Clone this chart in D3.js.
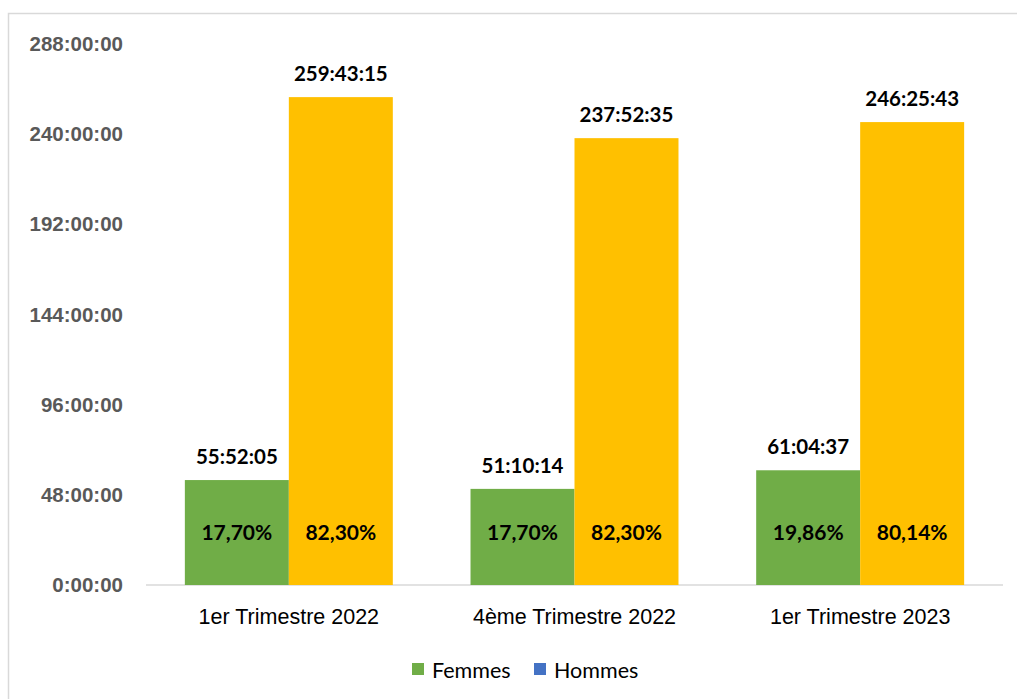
<!DOCTYPE html>
<html>
<head>
<meta charset="utf-8">
<script src="https://cdn.jsdelivr.net/npm/d3@7"></script>
<style>
  body { margin: 0; background: #fff; }
  svg { font-family: Lato, "Open Sans", sans-serif; }
</style>
</head>
<body>
<div id="chart"></div>
<script>
// data
var categories = ["1er Trimestre 2022", "4ème Trimestre 2022", "1er Trimestre 2023"];
var femmesHours = [55 + 52/60 + 5/3600, 51 + 10/60 + 14/3600, 61 + 4/60 + 37/3600];
var hommesHours = [259 + 43/60 + 15/3600, 237 + 52/60 + 35/3600, 246 + 25/60 + 43/3600];
var femmesLabels = ["55:52:05", "51:10:14", "61:04:37"];
var hommesLabels = ["259:43:15", "237:52:35", "246:25:43"];
var femmesPct = ["17,70%", "17,70%", "19,86%"];
var hommesPct = ["82,30%", "82,30%", "80,14%"];
var yTicks = [0, 48, 96, 144, 192, 240, 288];
var tickLabels = ["0:00:00", "48:00:00", "96:00:00", "144:00:00", "192:00:00", "240:00:00", "288:00:00"];
var series = ["Femmes", "Hommes"];
var colors = {Femmes: "#70ad47", Hommes: "#ffc000"};
var legendColors = {Femmes: "#70ad47", Hommes: "#4472c4"};

var svgWidth = 1017, svgHeight = 699;
var margin = {top: 44, right: 14, bottom: 114, left: 146};
var chartWidth = svgWidth - margin.left - margin.right;
var chartHeight = svgHeight - margin.top - margin.bottom;

var svg = d3.select("#chart").append("svg")
    .attr("width", svgWidth)
    .attr("height", svgHeight);

// outer frame (clipped on right/bottom like the source)
svg.append("rect")
    .attr("x", 8.5).attr("y", 13.5)
    .attr("width", 1030).attr("height", 720)
    .attr("fill", "none")
    .attr("stroke", "#d9d9d9")
    .attr("stroke-width", 1.5);

var g = svg.append("g")
    .attr("transform", `translate(${margin.left}, ${margin.top})`);

var x0 = d3.scaleBand()
    .domain(categories)
    .range([0, chartWidth])
    .paddingInner(0.272)
    .paddingOuter(0.136);

var x1 = d3.scaleBand()
    .domain(series)
    .range([0, x0.bandwidth()])
    .padding(0);

var y = d3.scaleLinear()
    .domain([0, 288])
    .range([chartHeight, 0]);

// y axis labels
var yAxis = d3.axisLeft(y)
    .tickValues(yTicks)
    .tickFormat(function(d, i) { return tickLabels[i]; })
    .tickSize(0)
    .tickPadding(23);

var yG = g.append("g").call(yAxis);
yG.select(".domain").remove();
yG.selectAll("text")
    .attr("fill", "#595959")
    .style("font-size", "20.5px")
    .style("font-weight", "bold");

// baseline
g.append("line")
    .attr("x1", 0).attr("x2", chartWidth)
    .attr("y1", y(0)).attr("y2", y(0))
    .attr("stroke", "#d9d9d9")
    .attr("stroke-width", 1.5);

var rows = categories.map(function(c, i) {
    return {
        cat: c,
        vals: [
            {key: "Femmes", v: femmesHours[i], label: femmesLabels[i], pct: femmesPct[i]},
            {key: "Hommes", v: hommesHours[i], label: hommesLabels[i], pct: hommesPct[i]}
        ]
    };
});

var groups = g.selectAll(".grp")
    .data(rows)
    .enter().append("g")
    .attr("class", "grp")
    .attr("transform", function(d) { return `translate(${x0(d.cat)}, 0)`; });

groups.selectAll("rect")
    .data(function(d) { return d.vals; })
    .enter().append("rect")
    .attr("x", function(d) { return x1(d.key); })
    .attr("y", function(d) { return y(d.v); })
    .attr("width", x1.bandwidth())
    .attr("height", function(d) { return y(0) - y(d.v); })
    .attr("fill", function(d) { return colors[d.key]; });

// value labels above bars
groups.selectAll(".val")
    .data(function(d) { return d.vals; })
    .enter().append("text")
    .attr("class", "val")
    .attr("x", function(d) { return x1(d.key) + x1.bandwidth() / 2; })
    .attr("y", function(d) { return y(d.v) - 16; })
    .attr("text-anchor", "middle")
    .style("font-size", "20.5px")
    .style("font-weight", "bold")
    .attr("fill", "#000")
    .text(function(d) { return d.label; });

// percentage labels inside bars
groups.selectAll(".pct")
    .data(function(d) { return d.vals; })
    .enter().append("text")
    .attr("class", "pct")
    .attr("x", function(d) { return x1(d.key) + x1.bandwidth() / 2; })
    .attr("y", y(28))
    .attr("dy", "0.35em")
    .attr("text-anchor", "middle")
    .style("font-size", "21px")
    .style("font-weight", "bold")
    .attr("fill", "#000")
    .text(function(d) { return d.pct; });

// category labels
var xAxis = d3.axisBottom(x0).tickSize(0).tickPadding(24);
var xG = g.append("g")
    .attr("transform", `translate(0, ${chartHeight})`)
    .call(xAxis);
xG.select(".domain").remove();
xG.selectAll("text")
    .attr("fill", "#000")
    .style("font-size", "21.5px");

// legend
var legend = svg.append("g").attr("transform", "translate(412, 670)");
var legendX = [0, 122];
series.forEach(function(s, i) {
    legend.append("rect")
        .attr("x", legendX[i]).attr("y", -7)
        .attr("width", 12).attr("height", 12)
        .attr("fill", legendColors[s]);
    legend.append("text")
        .attr("x", legendX[i] + 20).attr("y", 0)
        .attr("dy", "0.35em")
        .style("font-size", "21.5px")
        .attr("fill", "#000")
        .text(s);
});
</script>
</body>
</html>
